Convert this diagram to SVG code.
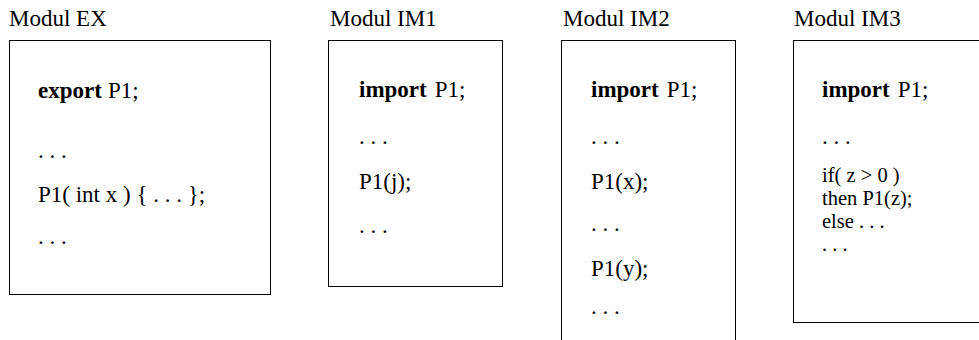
<svg xmlns="http://www.w3.org/2000/svg" width="979" height="340" viewBox="0 0 979 340">
<style>
text{font-family:"Liberation Serif","Times New Roman",serif;font-size:23px;fill:#000}
.b{font-weight:bold}
.t{font-size:20.5px}
rect{fill:#fff;stroke:#000;stroke-width:1}
</style>
<rect x="0" y="0" width="979" height="340" style="stroke:none"/>
<g id="ex">
<text x="9" y="26">Modul EX</text>
<rect x="9.5" y="40.5" width="261" height="254"/>
<text x="38" y="98"><tspan class="b">export</tspan><tspan dx="6">P1;</tspan></text>
<text x="38" y="158">. . .</text>
<text x="38" y="202">P1( int x ) { . . . };</text>
<text x="38" y="244">. . .</text>
</g>
<g id="im1">
<text x="330" y="26">Modul IM1</text>
<rect x="328.5" y="40.5" width="174" height="246"/>
<text x="359" y="97"><tspan class="b">import</tspan><tspan dx="8">P1;</tspan></text>
<text x="359" y="144">. . .</text>
<text x="359" y="189">P1(j);</text>
<text x="359" y="233">. . .</text>
</g>
<g id="im2">
<text x="563" y="26">Modul IM2</text>
<rect x="561.5" y="40.5" width="174" height="310"/>
<text x="591" y="97"><tspan class="b">import</tspan><tspan dx="8">P1;</tspan></text>
<text x="591" y="144">. . .</text>
<text x="591" y="189">P1(x);</text>
<text x="591" y="231">. . .</text>
<text x="591" y="276">P1(y);</text>
<text x="591" y="314">. . .</text>
</g>
<g id="im3">
<text x="794" y="26">Modul IM3</text>
<rect x="793.5" y="40.5" width="200" height="282"/>
<text x="822" y="97"><tspan class="b">import</tspan><tspan dx="8">P1;</tspan></text>
<text x="822" y="144">. . .</text>
<text class="t" x="822" y="182">if( z &gt; 0 )</text>
<text class="t" x="822" y="205">then P1(z);</text>
<text class="t" x="822" y="228">else . . .</text>
<text class="t" x="822" y="251">. . .</text>
</g>
<g id="connectors"/>
</svg>
